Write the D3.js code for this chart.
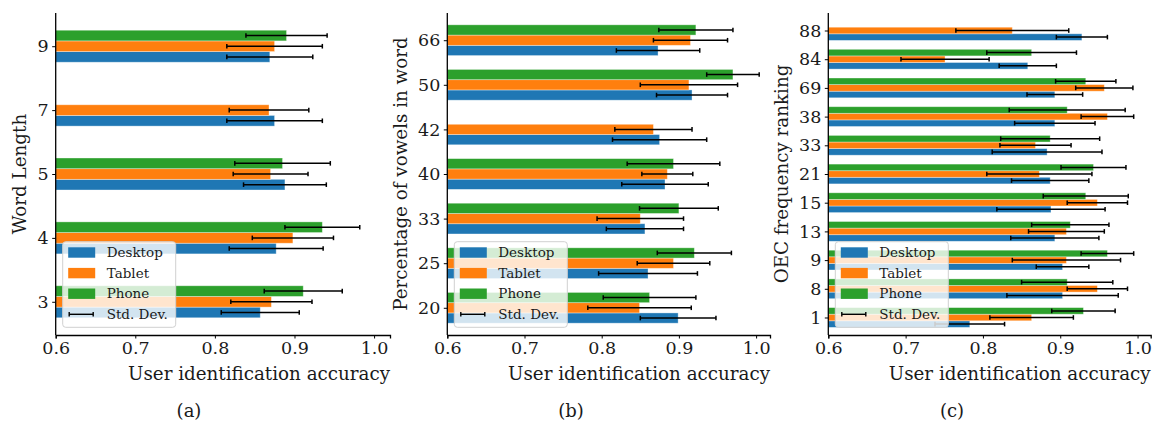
<!doctype html>
<html lang="en">
<head>
<meta charset="utf-8">
<title>User identification accuracy</title>
<script src="https://d3js.org/d3.v7.min.js"></script>
<style>
  body { margin: 0; background: #fff; }
  svg text { font-family: "DejaVu Serif", serif; fill: #1a1a1a; }
</style>
</head>
<body>
<svg id="chart" width="1155" height="423"></svg>
<script>
// series, top-to-bottom categories per panel
var seriesNames = ["Desktop", "Tablet", "Phone"];
var seriesColors = ["#1f77b4", "#ff7f0e", "#2ca02c"];
var xTicks = [0.6, 0.7, 0.8, 0.9, 1.0];

// (a) word length
var lenCats      = ["9", "7", "5", "4", "3"];
var lenDesktop   = [0.869, 0.875, 0.888, 0.877, 0.857];
var lenTablet    = [0.875, 0.868, 0.870, 0.898, 0.871];
var lenPhone     = [0.890, null,  0.885, 0.935, 0.911];
var lenDesktopSd = [0.054, 0.060, 0.052, 0.059, 0.049];
var lenTabletSd  = [0.060, 0.050, 0.047, 0.051, 0.051];
var lenPhoneSd   = [0.051, null,  0.060, 0.047, 0.049];

// (b) percentage of vowels in word
var vowCats      = ["66", "50", "42", "40", "33", "25", "20"];
var vowDesktop   = [0.873, 0.917, 0.875, 0.882, 0.856, 0.860, 0.899];
var vowTablet    = [0.915, 0.913, 0.867, 0.885, 0.850, 0.893, 0.849];
var vowPhone     = [0.922, 0.970, null,  0.893, 0.900, 0.920, 0.862];
var vowDesktopSd = [0.054, 0.046, 0.061, 0.056, 0.050, 0.064, 0.049];
var vowTabletSd  = [0.048, 0.063, 0.050, 0.033, 0.056, 0.047, 0.067];
var vowPhoneSd   = [0.048, 0.034, null,  0.060, 0.051, 0.048, 0.060];

// (c) OEC frequency ranking
var oecCats      = ["88", "84", "69", "38", "33", "21", "15", "13", "9", "8", "1"];
var oecDesktop   = [0.928, 0.858, 0.893, 0.893, 0.883, 0.887, 0.888, 0.893, 0.903, 0.903, 0.783];
var oecTablet    = [0.838, 0.751, 0.957, 0.961, 0.868, 0.873, 0.948, 0.908, 0.908, 0.948, 0.863];
var oecPhone     = [null,  0.863, 0.933, 0.909, 0.887, 0.943, 0.933, 0.913, 0.961, 0.909, 0.930];
var oecDesktopSd = [0.033, 0.037, 0.036, 0.052, 0.071, 0.050, 0.070, 0.057, 0.034, 0.072, 0.045];
var oecTabletSd  = [0.073, 0.057, 0.037, 0.034, 0.046, 0.068, 0.039, 0.049, 0.070, 0.039, 0.054];
var oecPhoneSd   = [null,  0.058, 0.039, 0.075, 0.064, 0.042, 0.055, 0.050, 0.034, 0.059, 0.041];

var panels = [
  { cats: lenCats, vals: [lenDesktop, lenTablet, lenPhone], sds: [lenDesktopSd, lenTabletSd, lenPhoneSd],
    ylabel: "Word Length", caption: "(a)",
    left: 55.7, right: 390, xmax: 1.02, pad: 0.52, bar: 0.167, ylabX: 20, capX: 189 },
  { cats: vowCats, vals: [vowDesktop, vowTablet, vowPhone], sds: [vowDesktopSd, vowTabletSd, vowPhoneSd],
    ylabel: "Percentage of vowels in word", caption: "(b)",
    left: 447.3, right: 770, xmax: 1.018, pad: 0.61, bar: 0.23, ylabX: 401, capX: 571 },
  { cats: oecCats, vals: [oecDesktop, oecTablet, oecPhone], sds: [oecDesktopSd, oecTabletSd, oecPhoneSd],
    ylabel: "OEC frequency ranking", caption: "(c)",
    left: 828.3, right: 1150.7, xmax: 1.017, pad: 0.61, bar: 0.23, ylabX: 782, capX: 952 }
];

var plotTop = 13, plotBottom = 335;
var svg = d3.select("#chart");

function errBar(g, x1, x2, yc) {
  g.append("line").attr("x1", x1).attr("x2", x2).attr("y1", yc).attr("y2", yc);
  g.append("line").attr("x1", x1).attr("x2", x1).attr("y1", yc - 2.3).attr("y2", yc + 2.3);
  g.append("line").attr("x1", x2).attr("x2", x2).attr("y1", yc - 2.3).attr("y2", yc + 2.3);
}

panels.forEach(function(p) {
  var n = p.cats.length;
  var x = d3.scaleLinear().domain([0.6, p.xmax]).range([p.left, p.right]);
  var y = d3.scaleLinear().domain([-p.pad, n - 1 + p.pad]).range([plotTop, plotBottom]);
  var bh = (y(1) - y(0)) * p.bar;
  var offs = [1, 0, -1]; // desktop below, tablet on tick, phone above

  var g = svg.append("g");

  seriesNames.forEach(function(name, si) {
    var rows = p.cats.map(function(c, i) {
      return { i: i, v: p.vals[si][i], sd: p.sds[si][i] };
    }).filter(function(d) { return d.v != null; });

    g.selectAll(null).data(rows).enter().append("rect")
      .attr("x", x(0.6))
      .attr("y", function(d) { return y(d.i) + offs[si] * bh - bh / 2; })
      .attr("width", function(d) { return x(d.v) - x(0.6); })
      .attr("height", bh)
      .attr("fill", seriesColors[si])
      .attr("stroke", "#fff").attr("stroke-opacity", 0.45).attr("stroke-width", 0.8);
  });

  var eg = g.append("g").attr("stroke", "#000").attr("stroke-width", 1.5);
  seriesNames.forEach(function(name, si) {
    p.cats.forEach(function(c, i) {
      var v = p.vals[si][i], sd = p.sds[si][i];
      if (v == null) return;
      errBar(eg, x(v - sd), x(Math.min(v + sd, p.xmax)), y(i) + offs[si] * bh);
    });
  });

  // legend
  var lx = p.left + 7, ly = 241.7;
  var lg = svg.append("g").attr("transform", "translate(" + lx + "," + ly + ")");
  lg.append("rect").attr("width", 113).attr("height", 85.6).attr("rx", 3)
    .attr("fill", "#fff").attr("fill-opacity", 0.8)
    .attr("stroke", "#d0d0d0").attr("stroke-width", 1);
  seriesNames.forEach(function(name, si) {
    var cy = 10.8 + si * 20.6;
    lg.append("rect").attr("x", 5.5).attr("y", cy - 5.2).attr("width", 27).attr("height", 10.4)
      .attr("fill", seriesColors[si]);
    lg.append("text").attr("x", 44).attr("y", cy).attr("dy", "0.35em")
      .style("font-size", "13.5px").text(name);
  });
  var sy = 10.8 + 3 * 20.6;
  var sg = lg.append("g").attr("stroke", "#000").attr("stroke-width", 1.4);
  errBar(sg, 6.5, 30.5, sy);
  lg.append("text").attr("x", 44).attr("y", sy).attr("dy", "0.35em")
    .style("font-size", "13.5px").text("Std. Dev.");

  // axes
  var xa = svg.append("g").attr("transform", "translate(0," + plotBottom + ")")
    .call(d3.axisBottom(x).tickValues(xTicks).tickFormat(d3.format(".1f"))
      .tickSizeOuter(0).tickSize(3.5).tickPadding(3.5));
  var ya = svg.append("g").attr("transform", "translate(" + p.left + ",0)")
    .call(d3.axisLeft(y).tickValues(d3.range(n)).tickFormat(function(i) { return p.cats[i]; })
      .tickSizeOuter(0).tickSize(3.5).tickPadding(3.5));
  [xa, ya].forEach(function(a) {
    a.select(".domain").attr("stroke", "#000").attr("stroke-width", 1.3);
    a.selectAll(".tick line").attr("stroke", "#000").attr("stroke-width", 1);
    a.selectAll(".tick text").style("font-size", "17.5px").attr("fill", "#1a1a1a")
      .style("font-family", "DejaVu Serif, serif");
  });
  ya.select(".domain").attr("d", "M0," + plotTop + "V" + plotBottom);

  svg.append("text").attr("x", p.right).attr("y", 380).attr("text-anchor", "end")
    .style("font-size", "18.3px").text("User identification accuracy");
  svg.append("text").attr("transform", "translate(" + p.ylabX + "," + ((plotTop + plotBottom) / 2) + ") rotate(-90)")
    .attr("text-anchor", "middle").attr("dy", "0.35em")
    .style("font-size", "18.3px").text(p.ylabel);
  svg.append("text").attr("x", p.capX).attr("y", 411).attr("text-anchor", "middle").attr("dy", "0.35em")
    .style("font-size", "18px").text(p.caption);
});
</script>
</body>
</html>
